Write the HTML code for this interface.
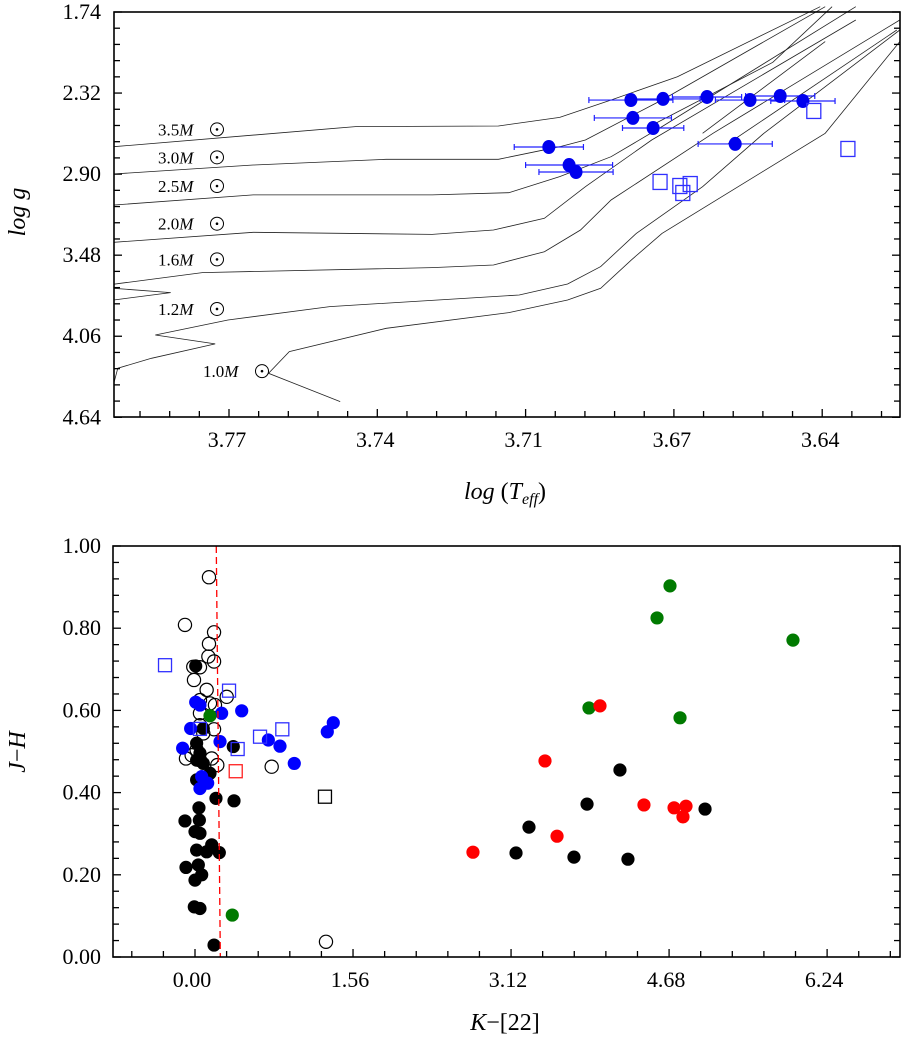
<!DOCTYPE html>
<html><head><meta charset="utf-8">
<style>
html,body{margin:0;padding:0;background:#fff;}
svg{display:block;}
text{font-family:"Liberation Serif","DejaVu Serif",serif;fill:#000;}
</style></head>
<body>
<svg id="fig" width="901" height="1044" viewBox="0 0 901 1044" xmlns="http://www.w3.org/2000/svg">
  <g id="topPanel"></g>
  <g id="botPanel"></g>
</svg>
<script>
// ---------- TOP PANEL DATA ----------
const topXTicks = [3.77, 3.74, 3.71, 3.68, 3.65];
const topXTickLabels = ["3.77","3.74","3.71","3.67","3.64"];
const topYTicks = [1.74, 2.32, 2.90, 3.48, 4.06, 4.64];
const topYTickLabels = ["1.74","2.32","2.90","3.48","4.06","4.64"];
const starTeff = [3.6887,3.6822,3.6733,3.6646,3.6585,3.6539,3.6883,3.6842,3.7053,3.7012,3.6998,3.6676];
const starLogg = [2.370,2.362,2.348,2.370,2.341,2.377,2.498,2.570,2.706,2.835,2.885,2.684];
const starErr  = [0.0085,0.0075,0.0070,0.0070,0.0070,0.0065,0.0078,0.0062,0.0070,0.0088,0.0075,0.0075];
const sqTeff = [3.6517,3.6448,3.6828,3.6788,3.6767,3.6782];
const sqLogg = [2.448,2.720,2.956,2.985,2.971,3.035];
const track35 = [[3.7933,2.704],[3.7444,2.560],[3.7155,2.556],[3.7031,2.494],[3.6927,2.370],[3.6793,2.203],[3.6504,1.702]];
const track30 = [[3.7933,2.899],[3.7651,2.835],[3.7382,2.794],[3.7155,2.794],[3.7031,2.704],[3.6979,2.656],[3.6824,2.370],[3.6494,1.702]];
const track25 = [[3.7933,3.121],[3.7651,3.049],[3.7289,3.049],[3.7134,3.033],[3.7031,2.918],[3.6927,2.775],[3.6824,2.560],[3.6432,1.702]];
const track20 = [[3.7933,3.388],[3.7651,3.316],[3.7289,3.331],[3.7165,3.300],[3.7062,3.216],[3.6979,2.990],[3.6845,2.656],[3.6432,1.797]];
const track16 = [[3.7933,3.688],[3.7754,3.605],[3.7289,3.569],[3.7165,3.550],[3.7062,3.455],[3.6989,3.300],[3.6927,3.085],[3.6721,2.608],[3.6343,1.797]];
const track12 = [[3.7933,4.397],[3.7925,4.289],[3.7857,4.218],[3.7728,4.115],[3.7849,4.051],[3.7702,3.944],[3.7496,3.848],[3.7113,3.765],[3.7015,3.686],[3.6948,3.562],[3.6876,3.324],[3.6742,2.990],[3.6618,2.608],[3.6343,1.869]];
const track10 = [[3.7475,4.528],[3.7620,4.325],[3.7578,4.170],[3.7382,4.003],[3.7134,3.891],[3.7015,3.801],[3.6948,3.717],[3.6886,3.514],[3.6824,3.324],[3.6494,2.608],[3.6343,1.952]];
const trackHook = [[3.7933,3.717],[3.7818,3.748],[3.7933,3.801]];
const trackExtraA = [[3.6742,2.608],[3.6494,1.952]];
const trackExtraB = [[3.6690,2.680],[3.6349,1.869]];
const trackExtraC = [[3.6850,2.560],[3.6600,2.100],[3.6480,1.702]];
const massLabels = ["3.5","3.0","2.5","2.0","1.6","1.2","1.0"];
const massLabelG = [2.58,2.78,2.985,3.255,3.51,3.865,4.31];

// ---------- BOTTOM PANEL DATA ----------
const botXTicks = [0, 1.56, 3.12, 4.68, 6.24];
const botXTickLabels = ["0.00","1.56","3.12","4.68","6.24"];
const botYTicks = [0, 0.2, 0.4, 0.6, 0.8, 1.0];
const botYTickLabels = ["0.00","0.20","0.40","0.60","0.80","1.00"];
const openBlackX = [0.138,-0.099,0.188,0.138,0.132,0.188,-0.017,0.049,-0.010,0.115,0.313,0.049,0.148,0.197,0.049,0.188,0.049,0.082,-0.033,-0.089,0.165,0.220,0.757,1.293,0.016,0.049];
const openBlackY = [0.924,0.808,0.790,0.762,0.731,0.719,0.706,0.705,0.674,0.650,0.633,0.625,0.617,0.613,0.593,0.554,0.564,0.544,0.491,0.483,0.483,0.467,0.463,0.037,0.504,0.479];
const fillBlackX = [0.007,0.016,0.049,0.016,0.082,0.148,0.016,0.207,0.385,0.039,-0.099,0.043,0.000,0.049,0.016,0.115,0.240,0.165,-0.089,0.033,0.066,0.000,-0.007,0.049,0.188,0.378,0.082,
  4.195,3.870,3.297,3.169,3.741,4.274,5.035];
const fillBlackY = [0.708,0.520,0.496,0.479,0.471,0.447,0.431,0.386,0.380,0.363,0.331,0.333,0.305,0.301,0.260,0.256,0.254,0.273,0.218,0.224,0.200,0.187,0.122,0.118,0.029,0.512,0.556,
  0.455,0.372,0.316,0.253,0.243,0.238,0.360];
const blueX = [0.007,0.049,0.263,0.461,-0.043,0.247,-0.122,0.724,0.839,0.980,1.306,1.365,0.066,0.125,0.049];
const blueY = [0.620,0.613,0.593,0.599,0.556,0.524,0.508,0.528,0.513,0.471,0.548,0.570,0.439,0.423,0.410];
const blueSqX = [-0.296,0.336,0.049,0.642,0.862,0.421];
const blueSqY = [0.710,0.648,0.555,0.536,0.554,0.506];
const redSqX = [0.402];
const redSqY = [0.452];
const blackSqX = [1.283];
const blackSqY = [0.390];
const greenX = [0.148,0.368,4.689,4.561,5.903,3.889,4.788];
const greenY = [0.587,0.102,0.903,0.825,0.771,0.606,0.582];
const redX = [3.998,3.455,2.744,3.574,4.432,4.729,4.847,4.817];
const redY = [0.611,0.477,0.255,0.294,0.370,0.363,0.367,0.341];
const dashTop = 0.21, dashBot = 0.25;

const NS = "http://www.w3.org/2000/svg";
function mk(parent, tag, attrs){ const e=document.createElementNS(NS,tag); for(const k in attrs) e.setAttribute(k,attrs[k]); parent.appendChild(e); return e; }

// ---------- TOP ----------
const TP = {l:114,r:900,t:12,b:417};
const xT = v => 229 + (3.77 - v)/0.03*148.3;
const yT = v => TP.t + (v - 1.74)/0.58*(405.3/5);
const topG = document.getElementById('topPanel');
const tracks = [track35,track30,track25,track20,track16,track12,track10,trackHook,trackExtraA,trackExtraB,trackExtraC];
tracks.forEach((tr,i)=>{
  const p = mk(topG,'polyline',{points:tr.map(d=>xT(d[0]).toFixed(1)+','+yT(d[1]).toFixed(1)).join(' '),fill:'none',stroke:'#222','stroke-width':0.8});
  
  
});
massLabels.forEach((m,i)=>{
  const x = i===6 ? 203 : 158;
  const t = mk(topG,'text',{x:x,y:yT(massLabelG[i])+6,'font-size':17});
  
  
  t.appendChild(document.createTextNode(m));
  const ts = mk(t,'tspan',{'font-style':'italic'});
  ts.textContent='M';
  const cx = x + 59;
  const c = mk(topG,'circle',{cx:cx,cy:yT(massLabelG[i]),r:6.5,fill:'none',stroke:'#000','stroke-width':1});
  
  
  mk(topG,'circle',{cx:cx,cy:yT(massLabelG[i]),r:1.3,fill:'#000'});
});
starTeff.forEach((v,i)=>{
  const y=yT(starLogg[i]), x1=xT(v-starErr[i]), x2=xT(v+starErr[i]);
  const g = mk(topG,'g',{stroke:'#2020ff','stroke-width':1.2});
  
  
  mk(g,'line',{x1:x1,y1:y,x2:x2,y2:y});
  mk(g,'line',{x1:x1,y1:y-3,x2:x1,y2:y+3});
  mk(g,'line',{x1:x2,y1:y-3,x2:x2,y2:y+3});
});
starTeff.forEach((v,i)=>{
  const e = mk(topG,'ellipse',{cx:xT(v),cy:yT(starLogg[i]),rx:6.5,ry:7,fill:'#0000ee'});
  
  
});
sqTeff.forEach((v,i)=>{
  const r = mk(topG,'rect',{x:xT(v)-7,y:yT(sqLogg[i])-7.5,width:14,height:15,fill:'none',stroke:'#3030ff','stroke-width':1.3});
  
  
});
const tf = mk(topG,'rect',{x:TP.l,y:TP.t,width:TP.r-TP.l,height:TP.b-TP.t,fill:'none',stroke:'#000','stroke-width':1.6});


for(let i=0;i<=25;i++){
  const v=1.74+i*0.116, y=yT(v), L = i%5===0?8:6;
  mk(topG,'line',{x1:TP.l,y1:y,x2:TP.l+L,y2:y,stroke:'#000','stroke-width':1.3});
  mk(topG,'line',{x1:TP.r,y1:y,x2:TP.r-L,y2:y,stroke:'#000','stroke-width':1.3});
}
topYTicks.forEach((v,i)=>{
  const t=mk(topG,'text',{x:101,y:yT(v)+7,'font-size':22,'text-anchor':'end'});
  
  
  t.textContent=topYTickLabels[i];
});
for(let i=-4;i<=27;i++){
  const v=3.77-i*0.006, x=xT(v); if(x<TP.l+1||x>TP.r-1) continue;
  const L = ((i%5)+5)%5===0?8:6;
  mk(topG,'line',{x1:x,y1:TP.b,x2:x,y2:TP.b-L,stroke:'#000','stroke-width':1.3});
}
topXTicks.forEach((v,i)=>{
  const t=mk(topG,'text',{x:xT(v)-2,y:447,'font-size':22,'text-anchor':'middle'});
  
  
  t.textContent=topXTickLabels[i];
});
{
  const t=mk(topG,'text',{x:505,y:499,'font-size':24,'text-anchor':'middle'});
  
  
  mk(t,'tspan',{'font-style':'italic'}).textContent='log';
  mk(t,'tspan',{}).textContent=' (';
  mk(t,'tspan',{'font-style':'italic'}).textContent='T';
  mk(t,'tspan',{'font-style':'italic','font-size':16,dy:5}).textContent='eff';
  mk(t,'tspan',{dy:-5}).textContent=')';
  const y=mk(topG,'text',{x:0,y:0,'font-size':24,'text-anchor':'middle','font-style':'italic',transform:'translate(25,212) rotate(-90)'});
  
  
  y.textContent='log g';
}

// ---------- BOTTOM ----------
const BP = {l:113,r:900,t:546,b:957};
const xB = v => 195 + v*101.3;
const yB = v => BP.b - v*411;
const botG = document.getElementById('botPanel');
function circles(xs,ys,attrs,name){
  xs.forEach((v,i)=>{
    const c=mk(botG,'circle',Object.assign({cx:xB(v),cy:yB(ys[i]),r:6.6},attrs));
    
    
  });
}
function squares(xs,ys,col,name){
  xs.forEach((v,i)=>{
    const r=mk(botG,'rect',{x:xB(v)-6.5,y:yB(ys[i])-6.5,width:13,height:13,fill:'none',stroke:col,'stroke-width':1.3});
    
    
  });
}
circles(fillBlackX,fillBlackY,{fill:'#000'},'black-filled-point');
circles(openBlackX,openBlackY,{fill:'none',stroke:'#000','stroke-width':1.2},'black-open-point');
circles(blueX,blueY,{fill:'#0000ff'},'blue-point');
circles(greenX,greenY,{fill:'#007a00'},'green-point');
circles(redX,redY,{fill:'#ff0000'},'red-point');
squares(blueSqX,blueSqY,'#3030ff','blue-square');
squares(redSqX,redSqY,'#ff2020','red-square');
squares(blackSqX,blackSqY,'#000','black-square');
{
  const d=mk(botG,'line',{x1:xB(dashTop),y1:BP.t,x2:xB(dashBot),y2:BP.b,stroke:'#ff0000','stroke-width':1.3,'stroke-dasharray':'7,4'});
  
  
}
const bf=mk(botG,'rect',{x:BP.l,y:BP.t,width:BP.r-BP.l,height:BP.b-BP.t,fill:'none',stroke:'#000','stroke-width':1.6});


for(let i=0;i<=25;i++){
  const y=yB(i*0.04), L=i%5===0?8:6;
  mk(botG,'line',{x1:BP.l,y1:y,x2:BP.l+L,y2:y,stroke:'#000','stroke-width':1.3});
  mk(botG,'line',{x1:BP.r,y1:y,x2:BP.r-L,y2:y,stroke:'#000','stroke-width':1.3});
}
for(let i=-3;i<=25;i++){
  const x=xB(i*0.312); if(x<BP.l+1||x>BP.r-1) continue;
  const L=((i%5)+5)%5===0?8:6;
  mk(botG,'line',{x1:x,y1:BP.b,x2:x,y2:BP.b-L,stroke:'#000','stroke-width':1.3});
}
botYTicks.forEach((v,i)=>{
  const t=mk(botG,'text',{x:101,y:yB(v)+7,'font-size':22,'text-anchor':'end'});
  
  
  t.textContent=botYTickLabels[i];
});
botXTicks.forEach((v,i)=>{
  const t=mk(botG,'text',{x:xB(v)-3,y:987,'font-size':22,'text-anchor':'middle'});
  
  
  t.textContent=botXTickLabels[i];
});
{
  const t=mk(botG,'text',{x:505,y:1030,'font-size':24,'text-anchor':'middle'});
  
  
  mk(t,'tspan',{'font-style':'italic'}).textContent='K';
  mk(t,'tspan',{}).textContent='−[22]';
  const y=mk(botG,'text',{x:0,y:0,'font-size':24,'text-anchor':'middle',transform:'translate(25,752) rotate(-90)'});
  
  
  mk(y,'tspan',{'font-style':'italic'}).textContent='J';
  mk(y,'tspan',{}).textContent='−';
  mk(y,'tspan',{'font-style':'italic'}).textContent='H';
}
</script>
</body></html>
